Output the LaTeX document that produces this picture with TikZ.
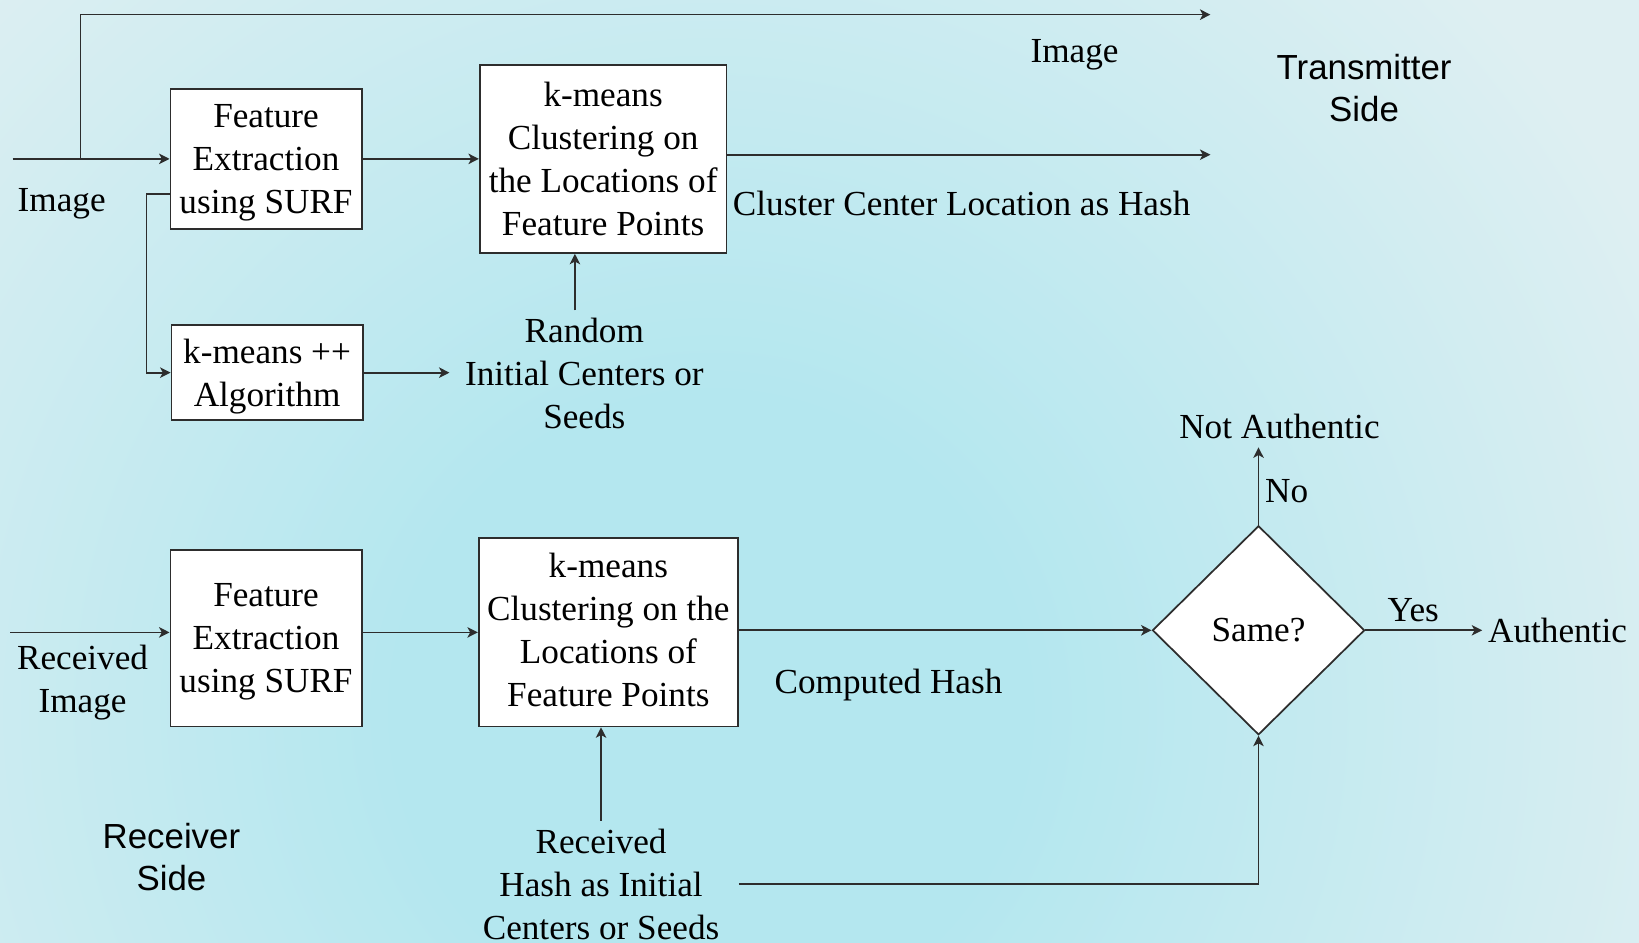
\documentclass[tikz,border=0pt]{standalone}
\usepackage{fontspec}
\setmainfont{Liberation Serif}
\setsansfont{Liberation Sans}
\usetikzlibrary{shapes.geometric,arrows.meta,calc}
\definecolor{bgin}{RGB}{180,231,239}
\definecolor{bgout}{RGB}{222,239,242}
\definecolor{ink}{RGB}{45,45,45}
\pgfdeclareradialshading{bgglow}{\pgfpoint{0bp}{0bp}}{color(0bp)=(bgin); color(12bp)=(bgin); color(40bp)=(bgout); color(50bp)=(bgout)}
% one drawing unit in pt, for sizes given as keys
\newcommand{\px}{*0.3pt}

\begin{document}
\begin{tikzpicture}[x=0.3pt,y=-0.3pt,
  font=\fontsize{10.1}{12.3}\selectfont,
  block/.style={draw=ink,fill=white,line width=0.5pt,inner sep=0pt,align=center},
  lbl/.style={inner sep=0pt,align=center},
  side/.style={lbl,font=\sffamily\fontsize{10}{12}\selectfont},
  flow/.style={draw=ink,line width=0.5pt,-{Stealth[length=3pt,width=3pt,inset=0.8pt]}}]

% canvas and soft background glow
\useasboundingbox (0,0) rectangle (1568,902);
\begin{scope}
  \clip (0,0) rectangle (1568,902);
  \fill[bgout] (0,0) rectangle (1568,902);
  \node[inner sep=0pt,scale=7.5,transform shape] (glow) at (680,680) {\pgfuseshading{bgglow}};
\end{scope}

% transmitter blocks
\node[block,minimum width=183\px,minimum height=134\px,text depth=0pt] (fe1) at (254.5,152) {Feature\\Extraction\\using SURF};
\node[block,minimum width=236\px,minimum height=180\px] (km1) at (577,152) {k-means\\Clustering on\\the Locations of\\Feature Points};
\node[block,minimum width=183\px,minimum height=91\px,text depth=0pt] (kpp) at (255.5,356.5) {k-means ++\\Algorithm};

% receiver blocks
\node[block,minimum width=183\px,minimum height=169\px,text depth=0pt] (fe2) at (254.5,610.5) {Feature\\Extraction\\using SURF};
\node[block,minimum width=248\px,minimum height=180\px,text depth=1.6pt] (km2) at (582,605) {k-means\\Clustering on the\\Locations of\\Feature Points};
\node[block,diamond,minimum width=203\px,minimum height=200\px] (dm) at (1204,603) {Same?};

% labels
\node[lbl] (img1) at (59,195) {Image};
\node[lbl] (img2) at (1028,52) {Image};
\node[lbl] (hash) at (920,195) {Cluster Center Location as Hash};
\node[side] (tx) at (1305,84) {Transmitter\\Side};
\node[lbl] (rnd) at (559,357) {Random\\Initial Centers or\\Seeds};
\node[lbl] (rimg) at (79,653) {Received\\Image};
\node[lbl] (chash) at (850,655) {Computed Hash};
\node[lbl] (rh) at (575,846) {Received\\Hash as Initial\\Centers or Seeds};
\node[side] (rx) at (164,820) {Receiver\\Side};
\node[lbl,anchor=west] (auth) at (1423,603) {Authentic};
\node[lbl] (nauth) at (1224,408) {Not Authentic};
\node[lbl] (yes) at (1352,584) {Yes};
\node[lbl] (no) at (1231,470) {No};

% free ends of connectors
\coordinate (in1) at (12,152);
\coordinate (tap) at (77,152);
\coordinate (imgend) at (1158,14);
\coordinate (hashend) at (1158,148);
\coordinate (rndin) at (430,355);
\coordinate (rup) at (550,297);
\coordinate (in2) at (10,605);
\coordinate (natip) at (1204,428);
\coordinate (rhup) at (575,785);

% transmitter connectors
\draw[flow] (in1) -- (fe1.west);
\draw[flow] (tap) |- (imgend);
\draw[flow] (fe1.east) -- (km1.west);
\draw[flow] (km1.east |- hashend) -- (hashend);
\draw[flow] ([yshift=-10pt]fe1.west) -- ++(-22,0) |- (kpp.west);
\draw[flow] (kpp.east) -- (kpp.east -| rndin);
\draw[flow] (rup) -- (rup |- km1.south);

% receiver connectors
\draw[flow] (in2) -- (in2 -| fe2.west);
\draw[flow] (fe2.east |- in2) -- (in2 -| km2.west);
\draw[flow] (dm.west -| km2.east) -- (dm.west);
\draw[flow] (dm.east) -- ([xshift=-1.5pt]auth.west);
\draw[flow] (dm.north) -- (natip);
\draw[flow] (rhup) -- (rhup |- km2.south);
\draw[flow] ([xshift=5.4pt]rh.east) -| (dm.south);
\end{tikzpicture}
\end{document}
